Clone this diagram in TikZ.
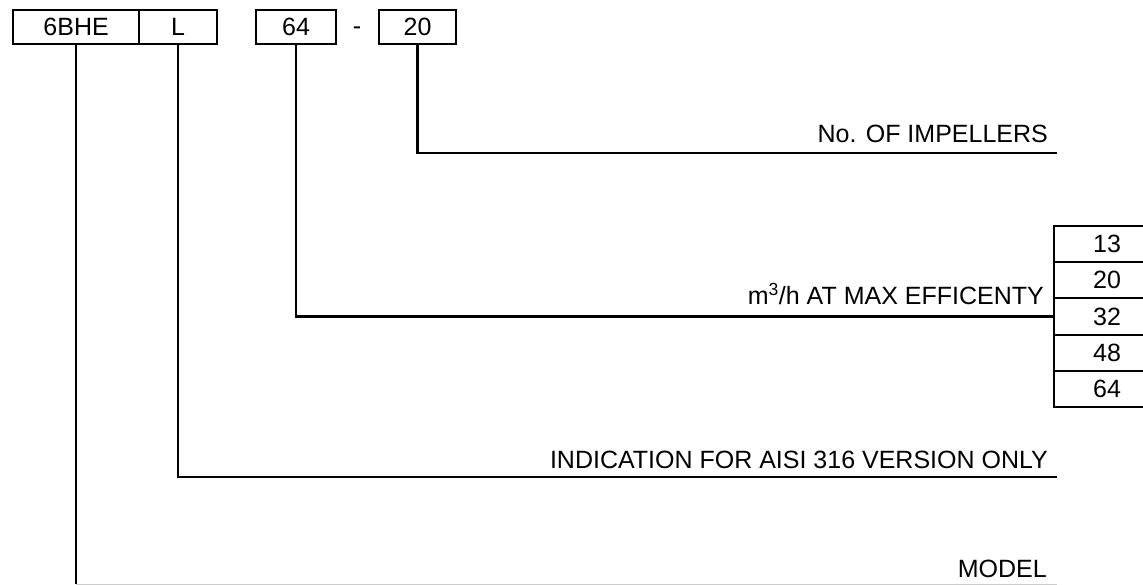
\documentclass[tikz,border=0pt]{standalone}
\usepackage{fontspec}
\setmainfont{Liberation Sans}
\usetikzlibrary{positioning}

\begin{document}
\begin{tikzpicture}[x=1pt,y=-1pt,
    code/.style={draw,line width=2.2pt,minimum height=34pt,inner sep=0pt,
      anchor=north west,font=\fontsize{25}{29}\selectfont},
    cell/.style={draw,line width=2.2pt,minimum width=106pt,minimum height=36.2pt,
      inner sep=0pt,font=\fontsize{25}{29}\selectfont},
    lead/.style={line width=2.4pt},
    lbl/.style={anchor=base east,inner sep=0pt,font=\fontsize{25}{29}\selectfont}]
    \useasboundingbox (0,0) rectangle (1143,585);
    \clip (0,0) rectangle (1143,585);
    \def\lend{1057}
    % code boxes
    \node[code,minimum width=126pt] (model) at (12,9) {6BHE};
    \node[code,minimum width=78pt] (steel) at (138,9) {L};
    \node[code,minimum width=80pt] (flow) at (255,9) {64};
    \node[code,minimum width=77pt] (imp) at (378,9) {20};
    \node[anchor=base,inner sep=0pt,font=\fontsize{25}{29}\selectfont] (dash) at (357,35) {-};
    % flow table
    \foreach \v [count=\i] in {13,20,32,48,64}
      \node[cell] (q\i) at (1107,226+36.2*\i-18.1) {\v};
    % leaders
    \coordinate (eImp) at (\lend,153);
    \coordinate (eSteel) at (\lend,477);
    \coordinate (eModel) at (\lend,584);
    \draw[lead] (imp.south) |- (eImp);
    \draw[lead] (flow.south) |- (q3.west);
    \draw[lead] (steel.south) |- (eSteel);
    \draw[lead] (model.south) -- (model.south |- eModel);
    \draw[gray!40,line width=1pt] (model.south |- eModel) -- (eModel);
    % labels
    \node[lbl] (tImp) at (1048,143) {No. OF IMPELLERS};
    \node[lbl] (tFlow) at (1044,305) {m\textsuperscript{3}/h AT MAX EFFICENTY};
    \node[lbl] (tSteel) at (1048,468) {INDICATION FOR AISI 316 VERSION ONLY};
    \node[lbl] (tModel) at (1047,577) {MODEL};
\end{tikzpicture}
\end{document}
